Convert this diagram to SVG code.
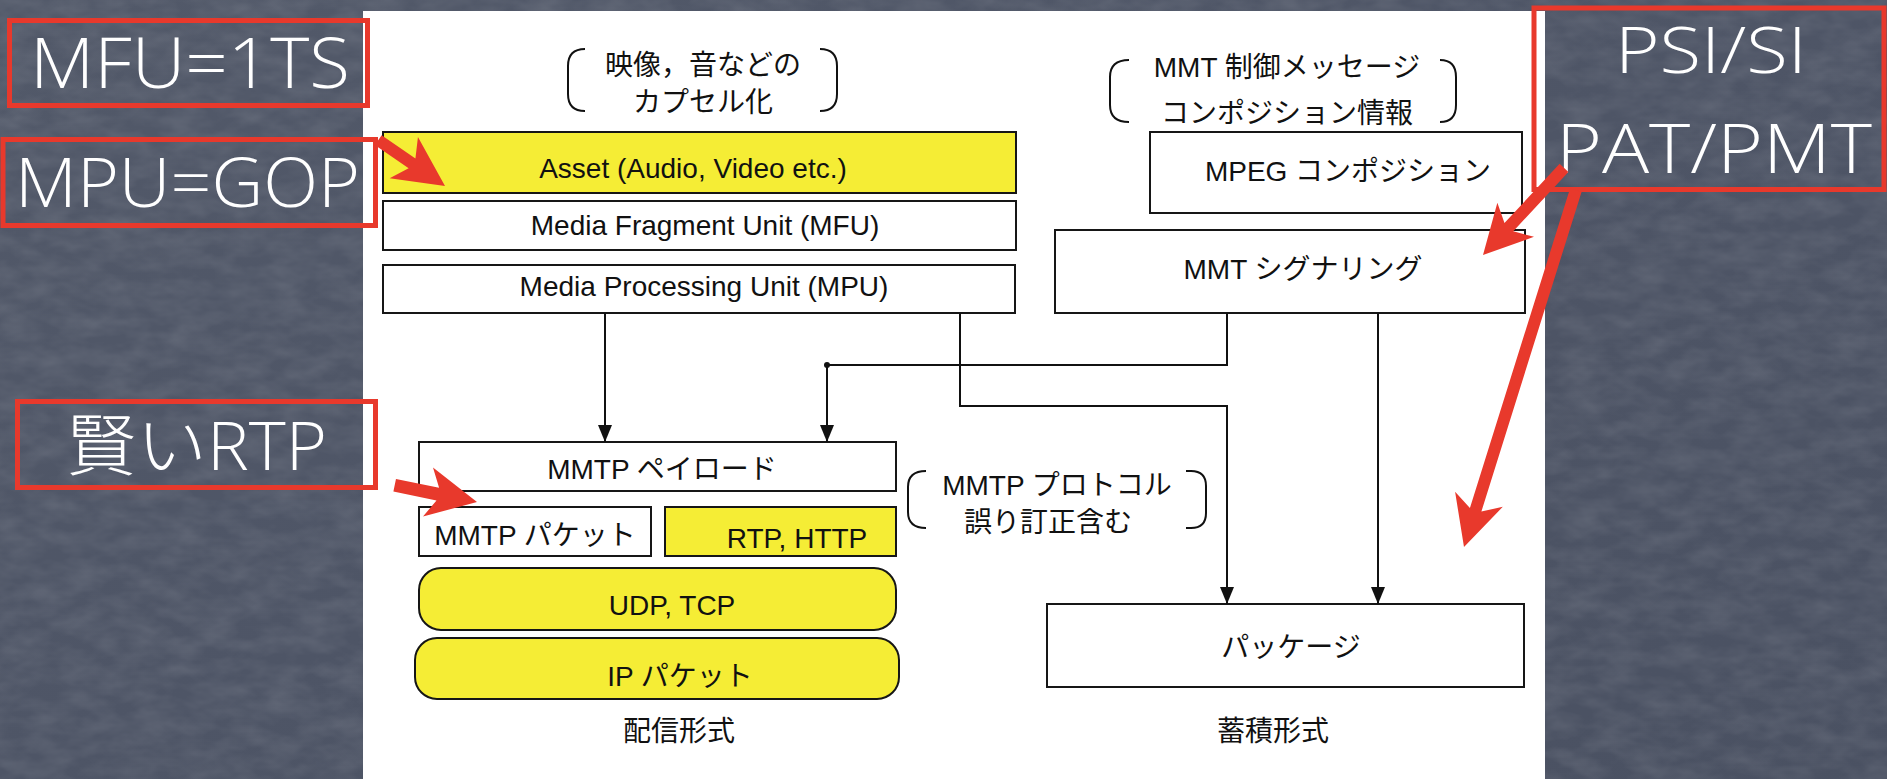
<svg xmlns="http://www.w3.org/2000/svg" width="1887" height="779" viewBox="0 0 1887 779">
  <defs>
    <style>
      .box { fill: #ffffff; stroke: #161616; stroke-width: 2; }
      .ybox { fill: #f5ed35; stroke: #161616; stroke-width: 2; }
      .t { font-family: "Liberation Sans", "Noto Sans CJK JP", sans-serif; font-size: 28px; fill: #111111; text-anchor: middle; }
      .wire { fill: none; stroke: #111111; stroke-width: 2; }
      .brk { fill: none; stroke: #111111; stroke-width: 2; }
      .callout { fill: none; stroke: #e8392c; stroke-width: 5; }
      .chalk { font-family: "Open Sans", "Noto Sans CJK JP", sans-serif; font-weight: 300; fill: #ffffff; }
      .redarrow { fill: #e8392c; }
    </style>
    <marker id="head" markerUnits="userSpaceOnUse" markerWidth="17" markerHeight="14" viewBox="0 0 17 14" refX="17" refY="7" orient="auto">
      <path d="M0,0 L17,7 L0,14 z" fill="#111111"/>
    </marker>
    <linearGradient id="slate" x1="0" y1="0" x2="1" y2="1">
      <stop offset="0" stop-color="#525969"/>
      <stop offset="0.5" stop-color="#4e5566"/>
      <stop offset="1" stop-color="#4a5162"/>
    </linearGradient>
    <!-- fine chalk grain over the board -->
    <filter id="dust" x="0" y="0" width="100%" height="100%">
      <feTurbulence type="fractalNoise" baseFrequency="0.03 0.06" numOctaves="3" seed="7"/>
      <feColorMatrix type="matrix" values="0 0 0 0 1  0 0 0 0 1  0 0 0 0 1  0.16 0 0 0 -0.05"/>
    </filter>
  </defs>

  <!-- chalkboard backdrop -->
  <rect x="0" y="0" width="1887" height="779" fill="url(#slate)"/>
  <rect x="0" y="0" width="1887" height="779" filter="url(#dust)"/>

  <!-- white diagram sheet -->
  <rect x="363" y="11" width="1182" height="768" fill="#ffffff"/>

  <!-- bracketed notes -->
  <g id="note-encap">
    <path class="brk" d="M585 49 Q568 49 568 66 L568 94 Q568 111 585 111"/>
    <path class="brk" d="M820 49 Q837 49 837 66 L837 94 Q837 111 820 111"/>
    <text class="t" x="703" y="75" font-size="27">映像，音などの</text>
    <text class="t" x="703" y="112" font-size="27">カプセル化</text>
  </g>
  <g id="note-control">
    <path class="brk" d="M1129 60 Q1110 60 1110 77 L1110 105 Q1110 122 1129 122"/>
    <path class="brk" d="M1440 60 Q1456 60 1456 77 L1456 105 Q1456 122 1440 122"/>
    <text class="t" x="1287" y="77" font-size="27">MMT 制御メッセージ</text>
    <text class="t" x="1287" y="123" font-size="27">コンポジション情報</text>
  </g>
  <g id="note-protocol">
    <path class="brk" d="M926 471 Q908 471 908 487 L908 512 Q908 528 926 528"/>
    <path class="brk" d="M1186 471 L1191 471 Q1206 471 1206 486 L1206 513 Q1206 528 1191 528 L1186 528"/>
    <text class="t" x="1057" y="495" font-size="26">MMTP プロトコル</text>
    <text class="t" x="1048" y="532" font-size="27">誤り訂正含む</text>
  </g>

  <!-- encapsulation stack -->
  <g id="asset">
    <rect class="ybox" x="383" y="132" width="633" height="61"/>
    <text class="t" x="693" y="178" font-size="30.5">Asset (Audio, Video etc.)</text>
  </g>
  <g id="mfu">
    <rect class="box" x="383" y="201" width="633" height="49"/>
    <text class="t" x="705" y="235">Media Fragment Unit (MFU)</text>
  </g>
  <g id="mpu">
    <rect class="box" x="383" y="265" width="632" height="48"/>
    <text class="t" x="704" y="296">Media Processing Unit (MPU)</text>
  </g>
  <g id="mpeg-composition">
    <rect class="box" x="1150" y="132" width="372" height="81"/>
    <text class="t" x="1348" y="181">MPEG コンポジション</text>
  </g>
  <g id="mmt-signaling">
    <rect class="box" x="1055" y="230" width="470" height="83"/>
    <text class="t" x="1303" y="279">MMT シグナリング</text>
  </g>

  <!-- delivery format -->
  <g id="mmtp-payload">
    <rect class="box" x="419" y="442" width="477" height="49"/>
    <text class="t" x="662" y="479">MMTP ペイロード</text>
  </g>
  <g id="mmtp-packet">
    <rect class="box" x="419" y="507" width="232" height="49"/>
    <text class="t" x="535" y="545" font-size="27.5">MMTP パケット</text>
  </g>
  <g id="rtp-http">
    <rect class="ybox" x="665" y="507" width="231" height="49"/>
    <text class="t" x="797" y="548" font-size="27">RTP, HTTP</text>
  </g>
  <g id="udp-tcp">
    <rect class="ybox" x="419" y="568" width="477" height="62" rx="22" ry="22"/>
    <text class="t" x="672" y="615" font-size="27">UDP, TCP</text>
  </g>
  <g id="ip-packet">
    <rect class="ybox" x="415" y="638" width="484" height="61" rx="22" ry="22"/>
    <text class="t" x="680" y="686" font-size="27">IP パケット</text>
  </g>
  <g id="label-delivery">
    <text class="t" x="679" y="741" font-size="27">配信形式</text>
  </g>

  <!-- storage format -->
  <g id="package">
    <rect class="box" x="1047" y="604" width="477" height="83"/>
    <text class="t" x="1291" y="657" font-size="27.5">パッケージ</text>
  </g>
  <g id="label-storage">
    <text class="t" x="1273" y="741" font-size="27">蓄積形式</text>
  </g>

  <!-- connectors -->
  <g id="connectors">
    <path class="wire" d="M605 313 L605 442" marker-end="url(#head)"/>
    <path class="wire" d="M1227 313 L1227 365 L827 365 L827 442" marker-end="url(#head)"/>
    <circle cx="827" cy="365" r="3" fill="#111111"/>
    <path class="wire" d="M960 313 L960 406 L1227 406 L1227 604" marker-end="url(#head)"/>
    <path class="wire" d="M1378 313 L1378 604" marker-end="url(#head)"/>
  </g>

  <!-- chalk annotations -->
  <g id="callout-mfu">
    <rect class="callout" x="9.5" y="20.5" width="358" height="85"/>
    <text class="chalk" x="30" y="88" font-size="70" textLength="320" lengthAdjust="spacingAndGlyphs">MFU=1TS</text>
  </g>
  <g id="callout-mpu">
    <rect class="callout" x="3" y="139.5" width="372.5" height="86"/>
    <text class="chalk" x="15" y="207" font-size="69" textLength="345" lengthAdjust="spacingAndGlyphs">MPU=GOP</text>
  </g>
  <g id="callout-rtp">
    <rect class="callout" x="17.5" y="401.5" width="358" height="86"/>
    <text class="chalk" x="66" y="470" font-size="67" textLength="261" lengthAdjust="spacingAndGlyphs">賢いRTP</text>
  </g>
  <g id="callout-psi">
    <rect class="callout" x="1534" y="8" width="350" height="181.5"/>
    <text class="chalk" x="1615" y="73" font-size="64" textLength="192" lengthAdjust="spacingAndGlyphs">PSI/SI</text>
    <text class="chalk" x="1556" y="173" font-size="69" textLength="316" lengthAdjust="spacingAndGlyphs">PAT/PMT</text>
  </g>

  <!-- red pointer arrows -->
  <g id="pointers">
    <polygon class="redarrow" transform="translate(445 186) rotate(34.5)" points="-81,-6 -40,-6 -50,-25 0,0 -50,25 -40,6 -81,6"/>
    <polygon class="redarrow" transform="translate(477 502) rotate(11.5)" points="-84,-6.5 -40,-6.5 -50,-25 0,0 -50,25 -40,6.5 -84,6.5"/>
    <polygon class="redarrow" transform="translate(1483 255) rotate(132.9)" points="-119,-6 -38,-6 -48,-25 0,0 -48,25 -38,6 -119,6"/>
    <polygon class="redarrow" transform="translate(1464 547) rotate(107.4)" points="-374,-6 -39,-6 -50,-25 0,0 -50,25 -39,6 -374,6"/>
  </g>
</svg>
